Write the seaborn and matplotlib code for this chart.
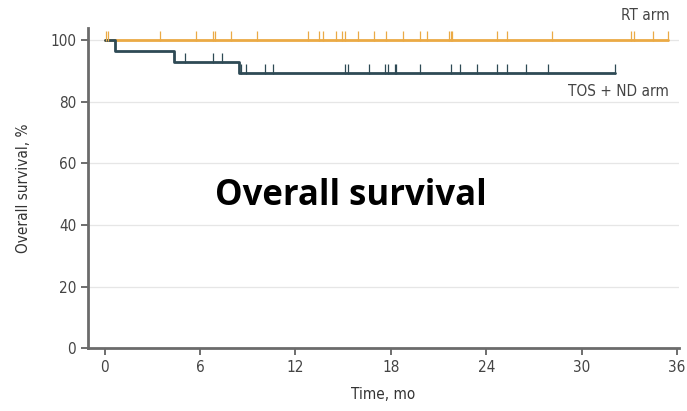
import numpy as np
import pandas as pd
import matplotlib
matplotlib.use("Agg")
import matplotlib.pyplot as plt
import seaborn as sns

# ---- data ----
rt_times = [0.0, 35.4]
rt_surv = [100.0, 100.0]
rt_censor = [0.06, 0.2, 3.5, 5.75, 6.8, 6.95, 7.95, 9.6, 12.8, 13.5, 13.7, 14.55,
             14.95, 15.1, 15.9, 16.95, 17.7, 18.75, 19.8, 20.3, 21.65, 21.75,
             21.85, 24.7, 25.3, 28.15, 33.1, 33.3, 34.45, 35.4]

tos_times = [0.0, 0.65, 4.35, 8.45, 32.1]
tos_surv = [100.0, 96.4, 92.9, 89.3, 89.3]
tos_censor = [5.05, 6.8, 7.35, 8.55, 8.9, 10.1, 10.6, 15.1, 15.3, 16.6, 17.6,
              17.8, 18.25, 18.35, 19.85, 21.75, 22.35, 23.4, 24.65, 25.3, 26.5,
              27.85, 32.1]

x_ticks = [0, 6, 12, 18, 24, 30, 36]
y_ticks = [0, 20, 40, 60, 80, 100]

RT_COLOR = "#EBAA45"
TOS_COLOR = "#2E4A55"
GRAY = "#6b6b6b"

def step_value(times, surv, t):
    idx = np.searchsorted(times, t, side="right") - 1
    return surv[max(idx, 0)]

curves = pd.DataFrame({
    "time": rt_times + tos_times,
    "surv": rt_surv + tos_surv,
    "arm": ["RT arm"] * len(rt_times) + ["TOS + ND arm"] * len(tos_times),
})
cens = pd.DataFrame({
    "time": rt_censor + tos_censor,
    "surv": [step_value(rt_times, rt_surv, t) for t in rt_censor]
            + [step_value(tos_times, tos_surv, t) for t in tos_censor],
    "arm": ["RT arm"] * len(rt_censor) + ["TOS + ND arm"] * len(tos_censor),
})

sns.set_style("white")
plt.rcParams["font.family"] = ["DejaVu Sans"]
plt.rcParams["font.stretch"] = "condensed"

fig = plt.figure(figsize=(6.87, 4.11), dpi=100)
ax = fig.add_axes([0.128, 0.153, 0.860, 0.779])

for yv in [20, 40, 60, 80, 100]:
    ax.axhline(yv, color="#e6e6e6", lw=0.9, zorder=0)

palette = {"RT arm": RT_COLOR, "TOS + ND arm": TOS_COLOR}
for arm, sub in curves.groupby("arm"):
    sns.lineplot(data=sub, x="time", y="surv", ax=ax, color=palette[arm],
                 drawstyle="steps-post", lw=2.0, legend=False,
                 estimator=None, sort=False, zorder=3)
for arm, sub in cens.groupby("arm"):
    sub = sub.copy()
    sub["y"] = sub["surv"] + 1.3
    sns.scatterplot(data=sub, x="time", y="y", ax=ax, marker="|",
                    color=palette[arm], s=45, linewidth=0.9, legend=False,
                    zorder=4)

ax.set_xlim(-1.05, 36.1)
ax.set_ylim(0, 104)
ax.set_xticks(x_ticks)
ax.set_yticks(y_ticks)
ax.tick_params(axis="both", colors="#555555", labelsize=11, length=5,
               width=1.2, direction="out", labelcolor="#444444")
ax.tick_params(axis="both", which="both", bottom=True, left=True)
for s in ["top", "right"]:
    ax.spines[s].set_visible(False)
for s in ["left", "bottom"]:
    ax.spines[s].set_color(GRAY)
    ax.spines[s].set_linewidth(2.0)

ax.set_xlabel("Time, mo", fontsize=11, color="#333333", labelpad=9)
ax.set_ylabel("Overall survival, %", fontsize=11, color="#333333", labelpad=14)

ax.text(35.5, 105.5, "RT arm", ha="right", va="bottom", fontsize=11,
        color="#444444", clip_on=False)
ax.text(35.5, 83.5, "TOS + ND arm", ha="right", va="center", fontsize=11,
        color="#444444")
ax.text(15.5, 49.5, "Overall survival", ha="center", va="center",
        fontsize=25, fontweight="bold", color="black",
        family=["Open Sans", "DejaVu Sans"], stretch="normal")

fig.savefig("out.png", dpi=100, facecolor="white")
